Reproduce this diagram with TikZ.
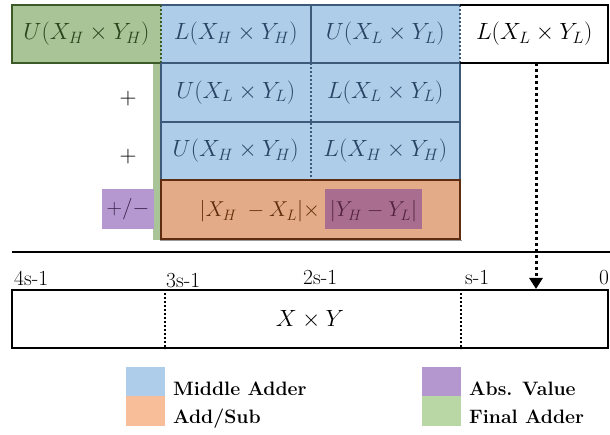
\RequirePackage{fix-cm}
\documentclass[tikz,border=0pt]{standalone}
\usetikzlibrary{arrows.meta}
\definecolor{greenF}{HTML}{A9C496}
\definecolor{greenD}{HTML}{3A5A27}
\definecolor{greenT}{HTML}{2A441C}
\definecolor{blueF}{HTML}{AECDE9}
\definecolor{blueD}{HTML}{3D5A7A}
\definecolor{blueT}{HTML}{284566}
\definecolor{orangeF}{HTML}{E3AB87}
\definecolor{orangeD}{HTML}{5E2C10}
\definecolor{orangeT}{HTML}{5E2C0C}
\definecolor{purpleF}{HTML}{B698D0}
\definecolor{purpleT}{HTML}{35204A}
\definecolor{hlF}{HTML}{A86D8F}
\definecolor{hlT}{HTML}{532240}
\definecolor{lgBlue}{HTML}{AECDEA}
\definecolor{lgOrange}{HTML}{F7BE99}
\definecolor{lgPurple}{HTML}{B597D0}
\definecolor{lgGreen}{HTML}{B8D7A5}
\newcommand{\mathsz}{\fontsize{23.5}{27}\selectfont}
\newcommand{\mathszs}{\fontsize{21.5}{25}\selectfont}
\newcommand{\lblsz}{\fontsize{21.5}{25}\selectfont}
\newcommand{\legsz}{\fontsize{19.4}{23}\selectfont\bfseries}
\begin{document}
\begin{tikzpicture}[x=1pt,y=-1pt,
  cell/.style={inner sep=0pt, minimum width=149.5pt, minimum height=58pt, font=\mathsz},
  bord/.style={line width=2pt},
  dots/.style={line width=2pt, dash pattern=on 2pt off 2pt},
  lbl/.style={anchor=base west, inner sep=0pt, font=\lblsz},
  lgsq/.style={inner sep=0pt, minimum width=39pt, minimum height=29.5pt},
  lgtx/.style={anchor=base west, inner sep=0pt, font=\legsz},
  mtx/.style={inner sep=0pt, font=\mathsz},
  mtxs/.style={inner sep=0pt, font=\mathszs}]
\useasboundingbox (0,0) rectangle (610,435);
% green bar
\fill[greenF] (153,63) rectangle (161,240);
% cells
\node[cell, minimum width=149pt, fill=greenF, text=greenT] (g) at (86.5,34) {$U(X_H\times Y_H)$};
\node[cell, fill=blueF, text=blueT] (b11) at (235.75,34) {$L(X_H\times Y_H)$};
\node[cell, fill=blueF, text=blueT] (b12) at (385.25,34) {$U(X_L\times Y_L)$};
\node[cell, minimum width=147.5pt, text=black] (w13) at (534.25,34) {$L(X_L\times Y_L)$};
\node[cell, minimum height=58.5pt, fill=blueF, text=blueT] (b21) at (235.75,92.25) {$U(X_L\times Y_L)$};
\node[cell, minimum height=58.5pt, fill=blueF, text=blueT] (b22) at (385.25,92.25) {$L(X_L\times Y_L)$};
\node[cell, minimum height=58.5pt, fill=blueF, text=blueT] (b31) at (235.75,150.75) {$U(X_H\times Y_H)$};
\node[cell, minimum height=58.5pt, fill=blueF, text=blueT] (b32) at (385.25,150.75) {$L(X_H\times Y_H)$};
\node[cell, minimum width=299pt, minimum height=59pt, fill=orangeF] (o4) at (310.75,209.5) {};
% borders
\draw[bord, greenD] (g.north east) -- (g.north west) -- (g.south west) -- (g.south east);
\draw[dots, greenD] (g.north east) -- (g.south east);
\draw[bord, blueD] (b11.north west) -- (b12.north east);
\draw[bord, blueD] (b11.north east) -- (b11.south east);
\draw[dots, blueD] (b12.north east) -- (b12.south east);
\draw[bord, blueD] (b11.south west) -- (b12.south east);
\draw[bord, blueD] (b21.south west) -- (b22.south east);
\draw[bord, blueD] (b21.north west) -- (b31.south west);
\draw[bord, blueD] (b22.north east) -- (b32.south east);
\draw[dots, blueD] (b21.north east) -- (b31.south east);
\draw[bord, black] (w13.north west) -- (w13.north east) -- (w13.south east) -- (w13.south west);
\draw[gray!80, line width=1pt] (160,241) -- (462,241);
\draw[bord, orangeD] (o4.north west) rectangle (o4.south east);
% plus / abs
\node[mtx] (p1) at (128,99) {$+$};
\node[mtx] (p2) at (128,157) {$+$};
\node[mtxs, fill=purpleF, text=purpleT, minimum width=52pt, minimum height=40pt] (pm) at (128,209) {$+/-$};
\node[inner sep=0pt, fill=hlF, minimum width=97pt, minimum height=40pt] (hl) at (373.5,209) {};
\node[mtxs, anchor=base east, text=orangeT] (xd) at (320,217) {$|X_H\;-X_L|\times$};
\node[mtxs, anchor=base, text=hlT] (yd) at (373.5,217) {$|Y_H-Y_L|$};
% result
\draw[line width=2.2pt] (12,252) -- (610,252);
\node[lbl] (t4) at (14,286) {4s-1};
\node[lbl] (t3) at (166,288) {3s-1};
\node[lbl] (t2) at (303,285) {2s-1};
\node[lbl] (t1) at (465,285) {s-1};
\node[lbl] (t0) at (599,285) {0};
\node[draw, line width=2pt, inner sep=0pt, minimum width=596pt, minimum height=58pt, font=\mathsz] (prod) at (310,319) {$X\times Y$};
\coordinate (d1) at (165,0);
\coordinate (d2) at (461,0);
\coordinate (ar) at (536,0);
\draw[dots, line width=2.2pt] (d1 |- prod.north) -- (d1 |- prod.south);
\draw[dots, line width=2.2pt] (d2 |- prod.north) -- (d2 |- prod.south);
\draw[line width=3pt, dash pattern=on 3pt off 3pt, -{Triangle[width=13pt,length=11pt]}] (ar |- w13.south) -- (ar |- prod.north);
% legend
\node[lgsq, fill=lgBlue] (lb) at (145.5,381.5) {};
\node[lgsq, fill=lgOrange] (lo) at (145.5,411) {};
\node[lgsq, fill=lgPurple] (lp) at (441.5,381.5) {};
\node[lgsq, fill=lgGreen] (lgr) at (441.5,411) {};
\node[lgtx] (tb) at (173,395) {Middle Adder};
\node[lgtx] (to) at (173,423) {Add/Sub};
\node[lgtx] (tp) at (469,395) {Abs. Value};
\node[lgtx] (tg) at (469,423) {Final Adder};
\end{tikzpicture}
\end{document}
